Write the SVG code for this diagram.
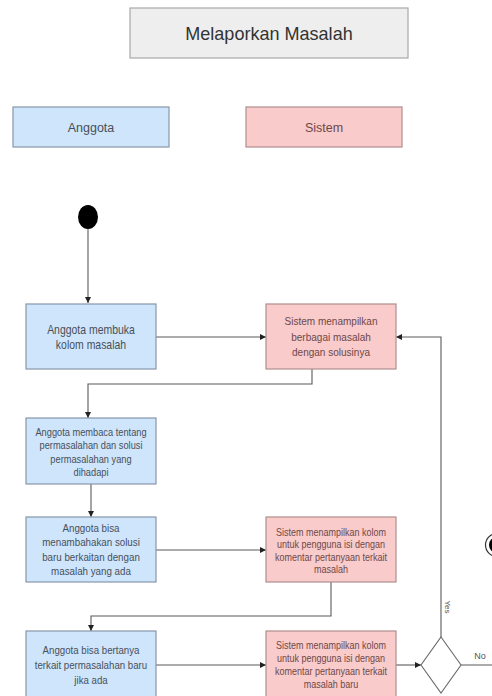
<svg xmlns="http://www.w3.org/2000/svg" width="492" height="696" viewBox="0 0 492 696">
<defs>
<marker id="arr" viewBox="0 0 10 10" refX="10" refY="5" markerWidth="6" markerHeight="6" markerUnits="userSpaceOnUse" orient="auto">
<path d="M0,0 L10,5 L0,10 z" fill="#222"/>
</marker>
<style>
text{font-family:"Liberation Sans",Arial,sans-serif;text-anchor:middle}
.blue{fill:#cfe5fb;stroke:#8797a8;stroke-width:1.2}
.pink{fill:#f9cbcb;stroke:#b08e8e;stroke-width:1.2}
.bt{fill:#47505a}
.pt{fill:#6e4848}
.ln{fill:none;stroke:#5a5a5a;stroke-width:1.1}
</style>
</defs>
<rect width="492" height="696" fill="#ffffff"/>

<g id="title">
<rect x="130" y="8" width="278" height="50" fill="#eeeeee" stroke="#a8a8a8" stroke-width="1.2"/>
<text x="269" y="40" font-size="19" fill="#333" transform="translate(269 0) scale(0.95 1) translate(-269 0)">Melaporkan Masalah</text>
</g>

<g id="lane-anggota">
<rect class="blue" x="13" y="107" width="156" height="40"/>
<text class="bt" x="91" y="132" font-size="12.5">Anggota</text>
</g>
<g id="lane-sistem">
<rect class="pink" x="246" y="107" width="156" height="40"/>
<text class="pt" x="324" y="132" font-size="12.5">Sistem</text>
</g>

<g id="connectors">
<path class="ln" d="M88,229 L88,303" marker-end="url(#arr)"/>
<path class="ln" d="M156,337 L266,337" marker-end="url(#arr)"/>
<path class="ln" d="M312,369 L312,384 L88,384 L88,418" marker-end="url(#arr)"/>
<path class="ln" d="M91,484 L91,517" marker-end="url(#arr)"/>
<path class="ln" d="M156,550 L266,550" marker-end="url(#arr)"/>
<path class="ln" d="M331,582 L331,616 L91,616 L91,631" marker-end="url(#arr)"/>
<path class="ln" d="M156,665 L266,665" marker-end="url(#arr)"/>
<path class="ln" d="M396,665 L421,665" marker-end="url(#arr)"/>
<path class="ln" d="M441,637 L441,337 L396,337" marker-end="url(#arr)"/>
<path class="ln" d="M461,665 L494,665"/>
<text x="0" y="0" font-size="8" fill="#555" transform="translate(445 607) rotate(90)">Yes</text>
<text x="480" y="659" font-size="9" fill="#555">No</text>
</g>

<g id="start">
<ellipse cx="88" cy="217" rx="10" ry="12" fill="#000"/>
</g>

<g id="n1">
<rect class="blue" x="26" y="304" width="130" height="65"/>
<g transform="translate(91 0) scale(0.85 1)">
<text class="bt" x="0" y="334" font-size="12.3">Anggota membuka</text>
<text class="bt" x="0" y="349.5" font-size="12.3">kolom masalah</text>
</g>
</g>

<g id="n2">
<rect class="pink" x="266" y="304" width="130" height="65"/>
<g transform="translate(331 0) scale(0.85 1)">
<text class="pt" x="0" y="325.5" font-size="11.8">Sistem menampilkan</text>
<text class="pt" x="0" y="341" font-size="11.8">berbagai masalah</text>
<text class="pt" x="0" y="356.5" font-size="11.8">dengan solusinya</text>
</g>
</g>

<g id="n3">
<rect class="blue" x="26" y="418" width="130" height="66"/>
<g transform="translate(91 0) scale(0.85 1)">
<text class="bt" x="0" y="436.5" font-size="10.9">Anggota membaca tentang</text>
<text class="bt" x="0" y="449.5" font-size="10.9">permasalahan dan solusi</text>
<text class="bt" x="0" y="462.7" font-size="10.9">permasalahan yang</text>
<text class="bt" x="0" y="476" font-size="10.9">dihadapi</text>
</g>
</g>

<g id="n4">
<rect class="blue" x="26" y="517" width="130" height="65"/>
<g transform="translate(91 0) scale(0.85 1)">
<text class="bt" x="0" y="531.8" font-size="11.5">Anggota bisa</text>
<text class="bt" x="0" y="546.3" font-size="11.5">menambahakan solusi</text>
<text class="bt" x="0" y="560.8" font-size="11.5">baru berkaitan dengan</text>
<text class="bt" x="0" y="575.3" font-size="11.5">masalah yang ada</text>
</g>
</g>

<g id="n5">
<rect class="pink" x="266" y="517" width="130" height="65"/>
<g transform="translate(331 0) scale(0.85 1)">
<text class="pt" x="0" y="536" font-size="10.6">Sistem menampilkan kolom</text>
<text class="pt" x="0" y="548.5" font-size="10.6">untuk pengguna isi dengan</text>
<text class="pt" x="0" y="561" font-size="10.6">komentar pertanyaan terkait</text>
<text class="pt" x="0" y="573.5" font-size="10.6">masalah</text>
</g>
</g>

<g id="n6">
<rect class="blue" x="26" y="631" width="130" height="66"/>
<g transform="translate(91 0) scale(0.85 1)">
<text class="bt" x="0" y="653.7" font-size="11.4">Anggota bisa bertanya</text>
<text class="bt" x="0" y="669" font-size="11.4">terkait permasalahan baru</text>
<text class="bt" x="0" y="684.3" font-size="11.4">jika ada</text>
</g>
</g>

<g id="n7">
<rect class="pink" x="266" y="631" width="130" height="66"/>
<g transform="translate(331 0) scale(0.85 1)">
<text class="pt" x="0" y="649.5" font-size="10.6">Sistem menampilkan kolom</text>
<text class="pt" x="0" y="662.3" font-size="10.6">untuk pengguna isi dengan</text>
<text class="pt" x="0" y="675.1" font-size="10.6">komentar pertanyaan terkait</text>
<text class="pt" x="0" y="688" font-size="10.6">masalah baru</text>
</g>
</g>

<g id="decision">
<polygon points="441,637 461,665 441,693 421,665" fill="#ffffff" stroke="#6a6a6a" stroke-width="1.1"/>
</g>

<g id="end">
<circle cx="497" cy="545" r="11.5" fill="#ffffff" stroke="#333" stroke-width="1.2"/>
<circle cx="497" cy="545" r="8" fill="#000"/>
</g>
</svg>
